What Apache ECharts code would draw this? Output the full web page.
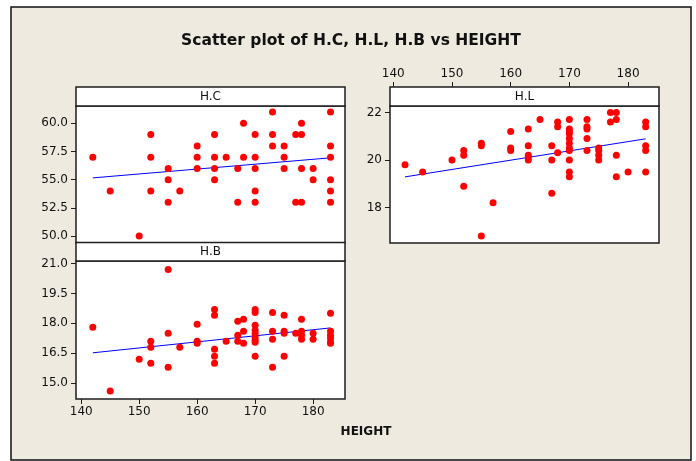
<!DOCTYPE html>
<html>
<head>
<meta charset="utf-8">
<script src="https://cdn.jsdelivr.net/npm/echarts@6/dist/echarts.min.js"></script>
<style>
html, body { margin: 0; padding: 0; background: #fff; }
#main { width: 696px; height: 461px; }
</style>
</head>
<body>
<div id="main"></div>
<script>
// values, grouped by height
var hcHeight = [142, 145, 150, 152, 152, 152, 155, 155, 155, 157, 160, 160, 160, 163, 163, 163, 163, 165, 167, 167,
  168, 168, 170, 170, 170, 170, 170, 173, 173, 173, 175, 175, 175, 177, 177, 178, 178, 178, 178, 180, 180,
  183, 183, 183, 183, 183, 183];
var hcValue = [57, 54, 50, 59, 57, 54, 56, 55, 53, 54, 58, 57, 56, 59, 57, 56, 55, 57, 56, 53,
  60, 57, 59, 57, 56, 54, 53, 61, 59, 58, 58, 57, 56, 59, 53, 60, 59, 56, 53, 56, 55,
  61, 58, 57, 55, 54, 53];

var hbHeight = [142, 145, 150, 152, 152, 152, 155, 155, 155, 157, 160, 160, 160, 163, 163, 163, 163, 163, 165,
  167, 167, 167, 168, 168, 168, 170, 170, 170, 170, 170, 170, 170, 170, 170, 173, 173, 173, 173,
  175, 175, 175, 175, 177, 178, 178, 178, 178, 180, 180, 183, 183, 183, 183, 183, 183];
var hbValue = [17.8, 14.6, 16.2, 17.1, 16.8, 16.0, 20.7, 17.5, 15.8, 16.8, 17.95, 17.1, 17.0, 18.7, 18.4, 16.7, 16.35, 16.0, 17.1,
  18.1, 17.4, 17.1, 18.2, 17.6, 17.0, 18.7, 18.55, 17.9, 17.65, 17.5, 17.3, 17.15, 17.05, 16.35, 18.55, 17.6, 17.2, 15.8,
  18.4, 17.6, 17.5, 16.35, 17.5, 18.2, 17.6, 17.4, 17.2, 17.5, 17.2, 18.5, 17.6, 17.4, 17.25, 17.05, 17.0];

var hlHeight = [142, 145, 150, 152, 152, 152, 155, 155, 155, 157, 160, 160, 160, 163, 163, 163, 163, 163, 165,
  167, 167, 167, 168, 168, 168, 170, 170, 170, 170, 170, 170, 170, 170, 170, 170, 170,
  173, 173, 173, 173, 173, 175, 175, 175, 175, 177, 177, 178, 178, 178, 178, 180, 183, 183, 183, 183, 183];
var hlValue = [19.8, 19.5, 20.0, 20.4, 20.2, 18.9, 20.7, 20.6, 16.8, 18.2, 21.2, 20.5, 20.4, 21.3, 20.6, 20.2, 20.1, 20.0, 21.7,
  20.6, 20.0, 18.6, 21.6, 21.4, 20.3, 21.7, 21.3, 21.2, 21.1, 20.9, 20.7, 20.5, 20.4, 20.0, 19.5, 19.3,
  21.7, 21.4, 21.3, 20.9, 20.4, 20.5, 20.4, 20.2, 20.0, 22.0, 21.6, 22.0, 21.7, 20.2, 19.3, 19.5, 21.6, 21.4, 20.6, 20.4, 19.5];

// fitted lines, end points
var fitHeight = [142, 183];
var fitHC = [55.16, 56.94];
var fitHB = [16.52, 17.77];
var fitHL = [19.29, 20.89];

var heightTicks = [140, 150, 160, 170, 180];
var hcTicks = [50, 52.5, 55, 57.5, 60];
var hbTicks = [15, 16.5, 18, 19.5, 21];
var hlTicks = [18, 20, 22];

var FONT = 'DejaVu Sans';
var LINE = '#1e1e1e';
var BG = '#eeeae0';

function pairs(xs, ys) {
  return xs.map(function (x, i) { return [x, ys[i]]; });
}

function xAxisOf(grid, min, max, shown, pos, offset) {
  return {
    gridIndex: grid, type: 'value', min: min, max: max, show: shown,
    position: pos, offset: offset || 0,
    axisLine: { show: false },
    axisTick: { show: true, length: 5, customValues: heightTicks, lineStyle: { color: LINE } },
    axisLabel: { customValues: heightTicks, color: '#111', fontFamily: FONT, fontSize: 12, margin: 7 },
    splitLine: { show: false }
  };
}

function yAxisOf(grid, min, max, ticks, digits) {
  return {
    gridIndex: grid, type: 'value', min: min, max: max,
    axisLine: { show: false },
    axisTick: { show: true, length: 5, customValues: ticks, lineStyle: { color: LINE } },
    axisLabel: {
      customValues: ticks, color: '#111', fontFamily: FONT, fontSize: 12, margin: 8,
      formatter: function (v) { return v.toFixed(digits); }
    },
    splitLine: { show: false }
  };
}

function dots(i, xs, ys) {
  return {
    type: 'scatter', xAxisIndex: i, yAxisIndex: i, data: pairs(xs, ys),
    symbol: 'circle', symbolSize: 7, itemStyle: { color: '#ff0000', opacity: 1 }, z: 3
  };
}

function fit(i, ys) {
  return {
    type: 'line', xAxisIndex: i, yAxisIndex: i, data: pairs(fitHeight, ys),
    symbol: 'none', lineStyle: { color: '#0000ff', width: 1 }, z: 2
  };
}

function strip(x, y, w, h, label) {
  return {
    type: 'group', z: 10,
    children: [
      { type: 'rect', shape: { x: x, y: y, width: w, height: h }, style: { fill: '#fff', stroke: LINE, lineWidth: 1.5 } },
      { type: 'text', style: { text: label, x: x + w / 2, y: y + h / 2 + 0.5, align: 'center', verticalAlign: 'middle',
        font: '12px "' + FONT + '"', fill: '#111' } }
    ]
  };
}

var chart = echarts.init(document.getElementById('main'), null, { renderer: 'canvas' });

var gridStyle = { show: true, backgroundColor: '#fff', borderColor: LINE, borderWidth: 1.5 };

var option = {
  backgroundColor: '#fff',
  animation: false,
  grid: [
    Object.assign({ left: 76, top: 106, width: 269, height: 137 }, gridStyle),
    Object.assign({ left: 76, top: 261, width: 269, height: 138 }, gridStyle),
    Object.assign({ left: 390, top: 106, width: 269, height: 137 }, gridStyle)
  ],
  xAxis: [
    xAxisOf(0, 139.1, 185.5, false, 'bottom'),
    xAxisOf(1, 139.1, 185.5, true, 'bottom'),
    xAxisOf(2, 139.44, 185.27, true, 'top', 19)
  ],
  yAxis: [
    yAxisOf(0, 49.38, 61.54, hcTicks, 1),
    yAxisOf(1, 14.2, 21.13, hbTicks, 1),
    yAxisOf(2, 16.51, 22.27, hlTicks, 0)
  ],
  series: [
    fit(0, fitHC), dots(0, hcHeight, hcValue),
    fit(1, fitHB), dots(1, hbHeight, hbValue),
    fit(2, fitHL), dots(2, hlHeight, hlValue)
  ],
  graphic: [
    { type: 'rect', z: -10, silent: true, shape: { x: 11, y: 7, width: 680, height: 453 },
      style: { fill: BG, stroke: '#111', lineWidth: 1.5 } },
    strip(76, 87, 269, 19, 'H.C'),
    strip(76, 242.5, 269, 18.5, 'H.B'),
    strip(390, 87, 269, 19, 'H.L'),
    { type: 'text', z: 10, style: { text: 'Scatter plot of H.C, H.L, H.B vs HEIGHT', x: 351, y: 41,
      align: 'center', verticalAlign: 'middle', font: 'bold 15.5px "' + FONT + '"', fill: '#111' } },
    { type: 'text', z: 10, style: { text: 'HEIGHT', x: 366, y: 432,
      align: 'center', verticalAlign: 'middle', font: 'bold 12px "' + FONT + '"', fill: '#111' } }
  ]
};

chart.setOption(option);
</script>
</body>
</html>
